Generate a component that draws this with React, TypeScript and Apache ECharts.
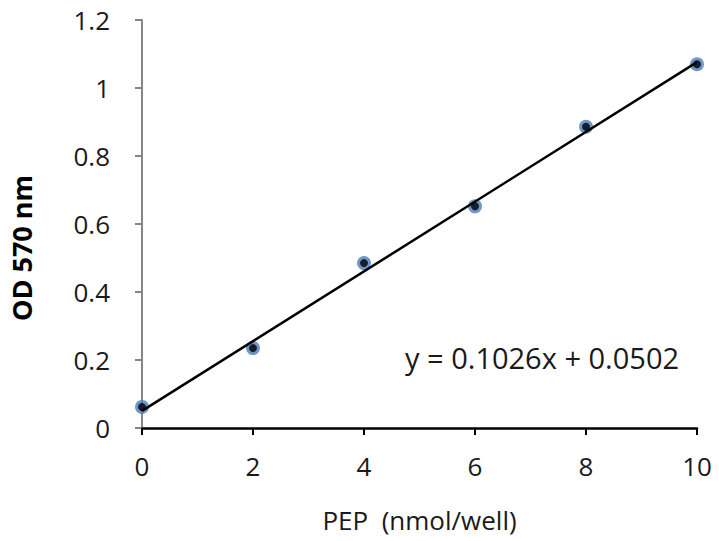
import React, { useEffect, useRef } from "react";
import * as echarts from "echarts";

const pepX = [0, 2, 4, 6, 8, 10];
const odValues = [0.062, 0.235, 0.485, 0.652, 0.886, 1.07];
const trendX = [0, 10];
const trendY = [0.0502, 1.0762];
const equationText = "y = 0.1026x + 0.0502";
const xAxisTitle = "PEP  (nmol/well)";
const yAxisTitle = "OD 570 nm";

const FONT = "'Open Sans', 'Liberation Sans', sans-serif";

export default function App() {
  const ref = useRef<HTMLDivElement>(null);
  useEffect(() => {
    if (!ref.current) return;
    const chart = echarts.init(ref.current, undefined, { renderer: "svg" });
    const points = pepX.map((x, i) => [x, odValues[i]]);
    chart.setOption({
      animation: false,
      backgroundColor: "#ffffff",
      grid: { left: 142, right: 22, top: 20, bottom: 113 },
      xAxis: {
        type: "value",
        min: 0,
        max: 10,
        interval: 2,
        name: xAxisTitle,
        nameLocation: "middle",
        nameGap: 79,
        nameTextStyle: { fontFamily: FONT, fontSize: 26, color: "#1a1a1a" },
        axisLine: { show: true, onZero: false, lineStyle: { color: "#000", width: 2.5 } },
        axisTick: { show: true, length: 7, lineStyle: { color: "#000", width: 2 } },
        axisLabel: { fontFamily: FONT, fontSize: 26, color: "#1a1a1a", margin: 25 },
        splitLine: { show: false },
      },
      yAxis: {
        type: "value",
        min: 0,
        max: 1.2,
        interval: 0.2,
        axisLine: { show: true, lineStyle: { color: "#868686", width: 2 } },
        axisTick: { show: true, length: 7, lineStyle: { color: "#868686", width: 2 } },
        axisLabel: { fontFamily: FONT, fontSize: 26, color: "#1a1a1a", margin: 32 },
        splitLine: { show: false },
      },
      graphic: [
        {
          type: "text",
          x: 21,
          y: 248,
          rotation: Math.PI / 2,
          style: {
            text: yAxisTitle,
            fontFamily: FONT,
            fontSize: 27,
            fontWeight: "bold",
            fill: "#000",
            align: "center",
            verticalAlign: "middle",
          },
        },
        {
          type: "text",
          x: 405,
          y: 357,
          style: {
            text: equationText,
            fontFamily: FONT,
            fontSize: 29,
            fill: "#1a1a1a",
            align: "left",
            verticalAlign: "middle",
          },
        },
      ],
      series: [
        {
          type: "scatter",
          data: points,
          symbol: "circle",
          symbolSize: 14,
          itemStyle: { color: "#4a7ebb" },
          z: 2,
        },
        {
          type: "line",
          data: trendX.map((x, i) => [x, trendY[i]]),
          showSymbol: false,
          symbol: "none",
          lineStyle: { color: "#000", width: 2.5 },
          z: 3,
        },
        {
          type: "scatter",
          data: points,
          symbol: "circle",
          symbolSize: 8,
          itemStyle: { color: "#000" },
          z: 4,
        },
      ],
    });
    return () => chart.dispose();
  }, []);
  return <div ref={ref} style={{ width: 719, height: 541, position: "absolute", left: 0, top: 0 }} />;
}
